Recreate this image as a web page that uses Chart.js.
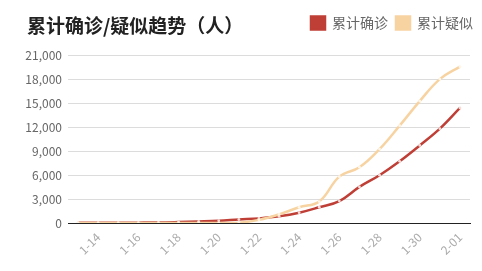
<!DOCTYPE html>
<html>
<head>
<meta charset="utf-8">
<script src="https://cdn.jsdelivr.net/npm/chart.js@4.4.0/dist/chart.umd.min.js"></script>
<style>
html,body{margin:0;padding:0;background:#fff;}
#wrap{position:relative;width:482px;height:271px;}
#title{position:absolute;left:27px;top:13px;font-family:"Noto Sans CJK SC","Noto Sans",sans-serif;font-weight:bold;font-size:19px;color:#222;line-height:24px;letter-spacing:0px;}
canvas{position:absolute;left:0;top:0;}
</style>
</head>
<body>
<div id="wrap">
<canvas id="c" width="482" height="271"></canvas>
<div id="title">累计确诊/疑似趋势（人）</div>
</div>
<script>
const categories = ["1-13","1-14","1-15","1-16","1-17","1-18","1-19","1-20","1-21","1-22","1-23","1-24","1-25","1-26","1-27","1-28","1-29","1-30","1-31","2-01"];
const confirmed = [41,41,41,45,62,121,198,291,440,571,830,1287,1975,2744,4515,5974,7711,9692,11791,14380];
const suspected = [0,0,0,0,0,0,0,0,37,393,1072,1965,2684,5794,6973,9239,12167,15238,17988,19544];
const seriesNames = ["累计确诊","累计疑似"];
const yTicks = [0,3000,6000,9000,12000,15000,18000,21000];

const red = "#bf3f36";
const peach = "#f8d3a2";
const font = "'Noto Sans CJK SC','Noto Sans',sans-serif";

const legendSpace = {
  id: "legendSpace",
  beforeInit(chart) {
    const lg = chart.legend;
    if (lg && lg.fit) {
      const orig = lg.fit;
      lg.fit = function() { orig.call(this); this.height += 15; };
    }
  },
  afterLayout(chart) {
    const lg = chart.legend;
    if (lg) {
      const dx = 11;
      lg.left += dx; lg.right += dx;
      (lg.legendHitBoxes || []).forEach(h => { h.left += dx; });
    }
  }
};

new Chart(document.getElementById("c"), {
  type: "line",
  plugins: [legendSpace],
  data: {
    labels: categories,
    datasets: [
      {label: seriesNames[0], data: confirmed, borderColor: red, backgroundColor: red, borderWidth: 2.5,
       pointRadius: 1.4, pointBackgroundColor: "#f4dcd8", pointBorderWidth: 0, tension: 0.4, order: 1},
      {label: seriesNames[1], data: suspected, borderColor: peach, backgroundColor: peach, borderWidth: 2.5,
       pointRadius: 1.4, pointBackgroundColor: "#fff6ea", pointBorderWidth: 0, tension: 0.4, order: 0}
    ]
  },
  options: {
    responsive: false,
    animation: false,
    layout: {padding: {top: 8, right: 12, left: 0, bottom: 0}},
    plugins: {
      tooltip: {enabled: false},
      legend: {
        display: true, position: "top", align: "end",
        labels: {boxWidth: 14, boxHeight: 13, padding: 8, color: "#666", font: {family: font, size: 14},
          sort: function(a, b){ return a.datasetIndex - b.datasetIndex; }}
      }
    },
    scales: {
      x: {
        offset: true,
        grid: {display: false, drawTicks: false},
        border: {display: true, color: "#222", width: 1},
        ticks: {
          autoSkip: false, maxRotation: 45, minRotation: 45, color: "#aaa", padding: 7,
          font: {family: font, size: 12},
          callback: function(v, i){ return i % 2 === 1 ? categories[i] : ""; }
        },
        afterFit: function(s){ s.height = 48; }
      },
      y: {
        min: 0, max: 21000,
        afterBuildTicks: function(s){ s.ticks = yTicks.map(v => ({value: v})); },
        grid: {color: "#dcdcdc", drawTicks: false, lineWidth: 1},
        border: {display: false},
        ticks: {color: "#666", padding: 6, font: {family: font, size: 12},
          callback: function(v){ return v.toLocaleString("en-US"); }},
        afterFit: function(s){ s.width = 68; }
      }
    }
  }
});
</script>
</body>
</html>
